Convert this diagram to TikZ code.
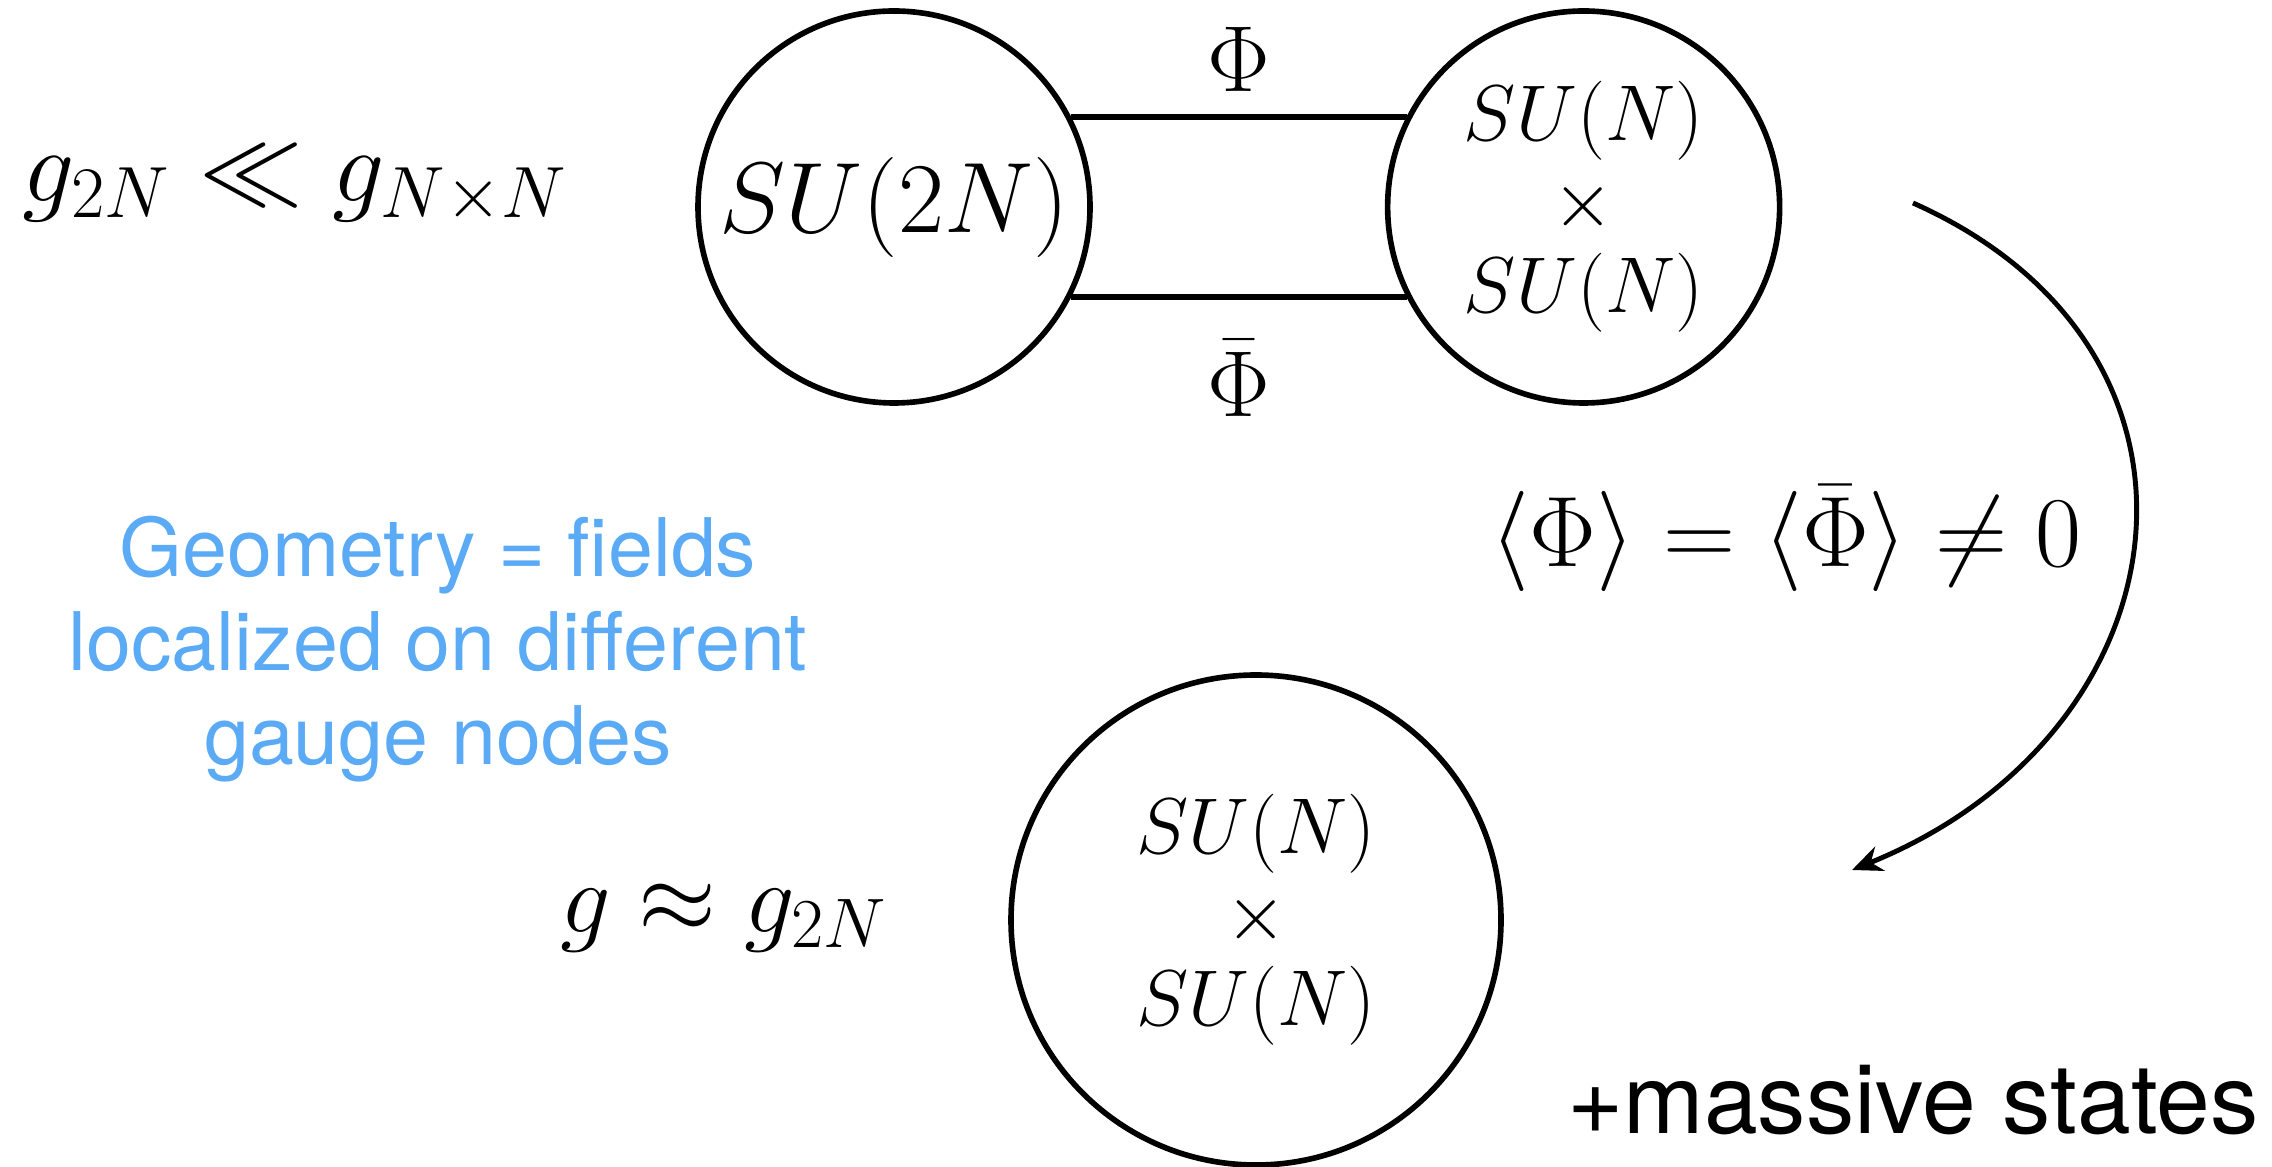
\documentclass[tikz,border=0pt]{standalone}
\usepackage{fix-cm}
\usepackage{fontspec}
\newfontfamily\helv{TeX Gyre Heros}
\usetikzlibrary{arrows.meta,positioning,calc}
\definecolor{geoblue}{RGB}{90,170,245}

\begin{document}
\begin{tikzpicture}[node distance=2.92cm,
    gnode/.style={draw,circle,line width=1.6pt,inner sep=0pt,minimum size=3.92cm,align=center},
    link/.style={line width=1.6pt},
    bigmath/.style={font=\fontsize{28.5}{30}\selectfont},
    midmath/.style={font=\fontsize{22.5}{24.5}\selectfont},
    fieldlbl/.style={inner sep=0pt,font=\fontsize{26.7}{28}\selectfont}]
  \useasboundingbox (0,0) rectangle (22.72,11.66);
  \node[gnode,bigmath] (su2n) at (8.94,9.59) {$SU(2N)$};
  \node[gnode,midmath,right=of su2n] (sunn) {$SU(N)$\\$\times$\\$SU(N)$};
  \node[gnode,midmath,minimum size=4.9cm] (sunnlow) at (12.56,2.46) {$SU(N)$\\$\times$\\$SU(N)$};
  \draw[link] (su2n.27) -- node[fieldlbl,above=0.22cm] (phi) {$\Phi$} (sunn.153);
  \draw[link] (su2n.-27) -- node[fieldlbl,below=0.40cm] (phibar) {$\bar\Phi$} (sunn.207);
  \node[font=\fontsize{29.5}{31}\selectfont,inner sep=0pt,anchor=base west] (gcoup) at (0.22,9.64) {$g_{2N}\ll g_{N\times N}$};
  \node[font=\helv\fontsize{23}{26.8}\selectfont,text=geoblue,align=center] (geom) at (4.38,5.17) {Geometry = fields\\localized on different\\gauge nodes};
  \node[font=\fontsize{28.5}{30}\selectfont,anchor=base] (vev) at (17.86,5.99) {$\langle\Phi\rangle=\langle\bar\Phi\rangle\neq0$};
  \node[bigmath,anchor=base] (glow) at (7.24,2.34) {$g\approx g_{2N}$};
  \node[font=\helv\fontsize{27.5}{30}\selectfont,anchor=base] (massive) at (19.13,0.33) {+massive states};
  % symmetry breaking
  \coordinate (brkstart) at (19.13,9.63);
  \coordinate (brkend) at (18.52,2.96);
  \draw[-{Stealth[length=3mm,width=2.6mm]},line width=1.4pt] (brkstart) .. controls +(-24:3.63) and +(22:3.63) .. (brkend);
\end{tikzpicture}
\end{document}
